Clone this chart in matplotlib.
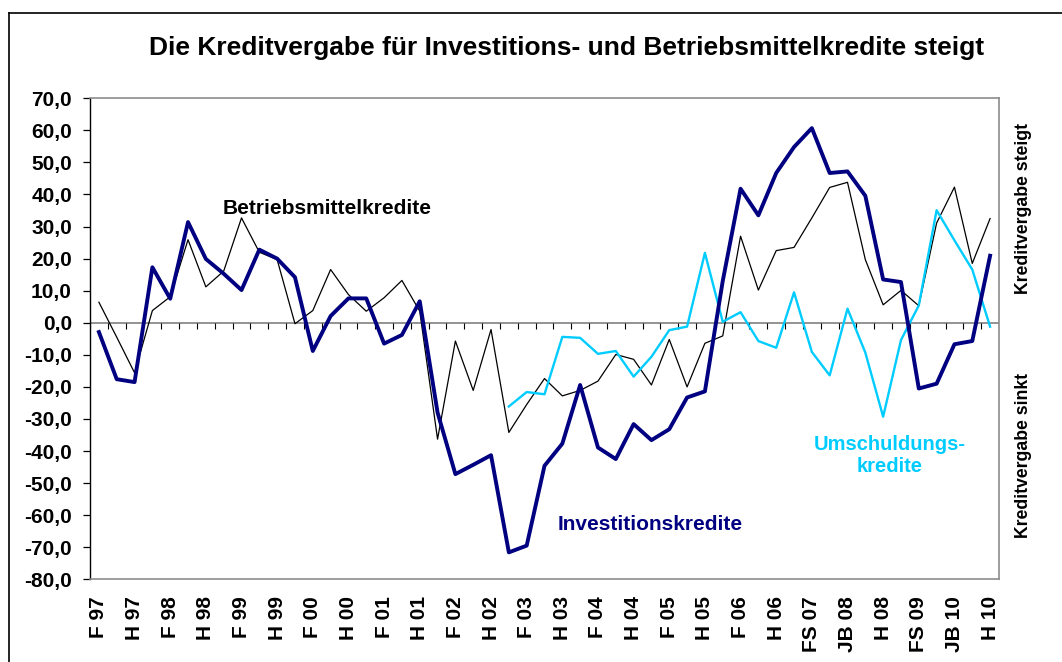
import numpy as np
import matplotlib
matplotlib.use("Agg")
import matplotlib.pyplot as plt
from matplotlib.lines import Line2D
from matplotlib.ticker import FuncFormatter, FixedLocator

# ---------------- data ----------------
tick_labels = ["F 97", "H 97", "F 98", "H 98", "F 99", "H 99", "F 00", "H 00",
               "F 01", "H 01", "F 02", "H 02", "F 03", "H 03", "F 04", "H 04",
               "F 05", "H 05", "F 06", "H 06", "FS 07", "JB 08", "H 08",
               "FS 09", "JB 10", "H 10"]

investitionskredite = [
    -2.9, -17.6, -18.5, 17.3, 7.5, 31.4, 19.9, 15.3, 10.2, 22.8,
    20.0, 14.2, -8.8, 2.1, 7.6, 7.6, -6.5, -3.8, 6.7, -28.0,
    -47.2, -44.3, -41.3, -71.6, -69.5, -44.6, -37.7, -19.4, -38.9, -42.5,
    -31.6, -36.6, -33.2, -23.3, -21.4, 13.0, 41.8, 33.5, 46.7, 54.8,
    60.7, 46.7, 47.2, 39.6, 13.5, 12.7, -20.5, -19.0, -6.7, -5.7,
    20.9]

betriebsmittelkredite = [
    6.4, -4.5, -15.6, 3.8, 8.1, 25.9, 11.2, 16.1, 32.7, 22.0,
    19.7, -0.3, 3.8, 16.6, 8.8, 3.6, 7.8, 13.2, 3.6, -36.3,
    -5.7, -21.1, -2.1, -34.2, -25.5, -17.4, -22.8, -21.1, -18.2, -9.9,
    -11.4, -19.4, -5.2, -20.0, -6.4, -4.1, 27.0, 10.2, 22.5, 23.5,
    32.7, 42.2, 43.8, 19.7, 5.6, 10.1, 5.3, 31.1, 42.3, 18.5,
    32.5]

umschuldungskredite = [np.nan] * 23 + [
    -26.1, -21.6, -22.3, -4.4, -4.7, -9.7, -8.8, -16.8, -10.6, -2.3,
    -1.2, 21.8, 0.3, 3.3, -5.7, -7.8, 9.5, -9.1, -16.4, 4.4,
    -9.3, -29.3, -5.4, 5.4, 35.1, 25.7, 16.6, -1.2]

# ---------------- figure ----------------
W, H = 1062, 662
fig = plt.figure(figsize=(W / 100, H / 100), dpi=100)
plt.rcParams['font.family'] = ['Liberation Sans', 'DejaVu Sans']

def fx(px):
    return px / W

def fy(py):
    return 1 - py / H

ax = fig.add_axes([fx(90), fy(579.3), fx(999) - fx(90), fy(98.3) - fy(579.3)])

n = len(investitionskredite)
x = np.arange(n)

ax.plot(x, betriebsmittelkredite, color="black", lw=0.9, zorder=3)
ax.plot(x, umschuldungskredite, color="#00CCFF", lw=1.7, zorder=4)
ax.plot(x, investitionskredite, color="#000080", lw=2.8, zorder=5)

ax.set_xlim(-0.5, n - 0.5)
ax.set_ylim(-80, 70)

# zero line acting as category axis with tick marks between categories
ax.axhline(0, color="#808080", lw=1.2, zorder=2)
bounds = np.arange(-0.5, n, 1.0)
ax.vlines(bounds, -1.9, 0, color="black", lw=0.8, zorder=2)

# y axis
ax.yaxis.set_major_locator(FixedLocator(np.arange(-80, 71, 10)))
ax.yaxis.set_major_formatter(FuncFormatter(lambda v, p: f"{v:.1f}".replace(".", ",")))
ax.tick_params(axis="y", direction="out", length=5, width=0.9, color="black",
               pad=8, labelsize=15)
for lbl in ax.get_yticklabels():
    lbl.set_fontweight("bold")

# x axis labels at bottom
ax.set_xticks(np.arange(0, n, 2))
ax.set_xticklabels(tick_labels, rotation=90, fontsize=15, fontweight="bold")
ax.tick_params(axis="x", length=0, pad=12)

for s in ["top", "right", "bottom"]:
    ax.spines[s].set_color("#8c8c8c")
    ax.spines[s].set_linewidth(1.2)
ax.spines["left"].set_color("black")
ax.spines["left"].set_linewidth(1.0)

# annotations
fig.text(fx(223), fy(208), "Betriebsmittelkredite", ha="left", va="center",
         fontsize=15, fontweight="bold", color="black")
fig.text(fx(558), fy(525), "Investitionskredite", ha="left", va="center",
         fontsize=15, fontweight="bold", color="#000080")
fig.text(fx(890), fy(455), "Umschuldungs-\nkredite", ha="center", va="center",
         multialignment="center", fontsize=14.5, fontweight="bold",
         color="#00CCFF", linespacing=1.2)
fig.text(fx(1023), fy(208), "Kreditvergabe steigt", rotation=90, ha="center",
         va="center", fontsize=12.7, fontweight="bold")
fig.text(fx(1023), fy(455), "Kreditvergabe sinkt", rotation=90, ha="center",
         va="center", fontsize=12.7, fontweight="bold")

# title
fig.text(fx(567), fy(48), "Die Kreditvergabe für Investitions- und Betriebsmittelkredite steigt",
         ha="center", va="center", fontsize=19, fontweight="bold")

# outer frame (top & left visible)
fig.add_artist(Line2D([fx(9), 1.0], [fy(13), fy(13)], color="black", lw=1.2,
                      transform=fig.transFigure))
fig.add_artist(Line2D([fx(9), fx(9)], [fy(13), 0.0], color="black", lw=1.2,
                      transform=fig.transFigure))

fig.savefig("out.png", dpi=100)
